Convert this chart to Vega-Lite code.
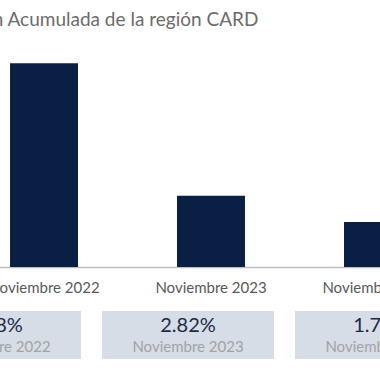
{
  "$schema": "https://vega.github.io/schema/vega-lite/v6.json",
  "padding": {"left": -91, "top": 11, "right": -133, "bottom": 0},
  "background": "white",
  "config": {"view": {"stroke": null}, "font": "Lato"},
  "title": {"text": "Inflación Acumulada de la región CARD", "anchor": "start", "fontSize": 19, "font": "Lato", "fontWeight": "normal", "color": "#6b6b6b", "dx": 23, "offset": 10},
  "data": {"values": [
    {"periodo": "Noviembre 2022", "valor": 8.08, "etiqueta": "8.08%"},
    {"periodo": "Noviembre 2023", "valor": 2.82, "etiqueta": "2.82%"},
    {"periodo": "Noviembre 2024", "valor": 1.78, "etiqueta": "1.78%"}
  ]},
  "bounds": "flush",
  "spacing": 44,
  "vconcat": [
    {
      "width": 604,
      "height": 227,
      "mark": {"type": "bar", "color": "#0a1f44"},
      "encoding": {
        "x": {"field": "periodo", "type": "nominal", "sort": null,
              "scale": {"paddingInner": 0.593, "paddingOuter": 0.605},
              "axis": {"title": null, "ticks": false, "grid": false, "domainColor": "#bfbfbf", "domainWidth": 1.5,
                       "labelColor": "#595959", "labelFontSize": 15, "labelFont": "Lato", "labelAngle": 0,
                       "labelBaseline": "alphabetic", "labelPadding": 25}},
        "y": {"field": "valor", "type": "quantitative", "scale": {"domain": [0, 9], "nice": false}, "axis": null}
      }
    },
    {
      "width": 558,
      "height": 48,
      "encoding": {
        "x": {"field": "periodo", "type": "nominal", "sort": null,
              "scale": {"paddingInner": 0.1088, "paddingOuter": 0}, "axis": null}
      },
      "layer": [
        {"mark": {"type": "rect", "color": "#d6dde6"}},
        {"mark": {"type": "text", "baseline": "alphabetic", "dy": -3, "fontSize": 20, "font": "Lato", "color": "#1c2a48"},
         "encoding": {"text": {"field": "etiqueta"}}},
        {"mark": {"type": "text", "baseline": "alphabetic", "dy": 17, "fontSize": 15, "font": "Lato", "color": "#a3a3a3"},
         "encoding": {"text": {"field": "periodo"}}}
      ]
    }
  ]
}
